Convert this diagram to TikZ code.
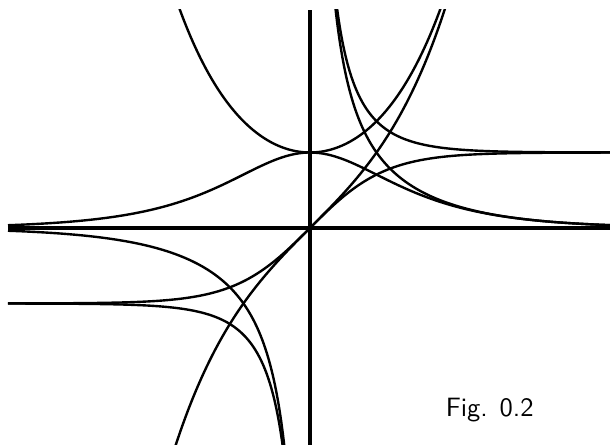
\documentclass[tikz,border=0pt]{standalone}
\usepackage{tikz}
\usetikzlibrary{calc}
\begin{document}
\begin{tikzpicture}[line join=round,
  axis/.style={line width=1.3pt},
  curve/.style={line width=0.9pt,smooth,samples=150},
  caption/.style={font=\sffamily,inner sep=1pt}]
\path[use as bounding box] (-4.106,-2.874) rectangle (3.974,3.02);
\coordinate (xl) at (-4,0);
\coordinate (xr) at (3.974,0);
\coordinate (yb) at (0,-2.874);
\coordinate (yt) at (0,2.89);
% axes
\draw[axis] (xl)--(xr);
\draw[axis] (yb)--(yt);
% hyperbolic functions
\begin{scope}
\clip (-4,-2.874) rectangle (3.974,2.89);
\draw[curve,domain=-4:3.974] plot (\x,{tanh(\x)});
\draw[curve,domain=-4:3.974] plot (\x,{1/cosh(\x)});
\draw[curve,domain=-1.85:1.85] plot (\x,{cosh(\x)});
\draw[curve,domain=-1.9:1.9] plot (\x,{sinh(\x)});
\draw[curve,domain=0.3:3.974] plot (\x,{1/tanh(\x)});
\draw[curve,domain=-4:-0.3] plot (\x,{1/tanh(\x)});
\draw[curve,domain=0.28:3.974] plot (\x,{1/sinh(\x)});
\draw[curve,domain=-4:-0.28] plot (\x,{1/sinh(\x)});
\end{scope}
\node[caption] (figlabel) at (2.38,-2.41) {Fig. 0.2};
\end{tikzpicture}
\end{document}
